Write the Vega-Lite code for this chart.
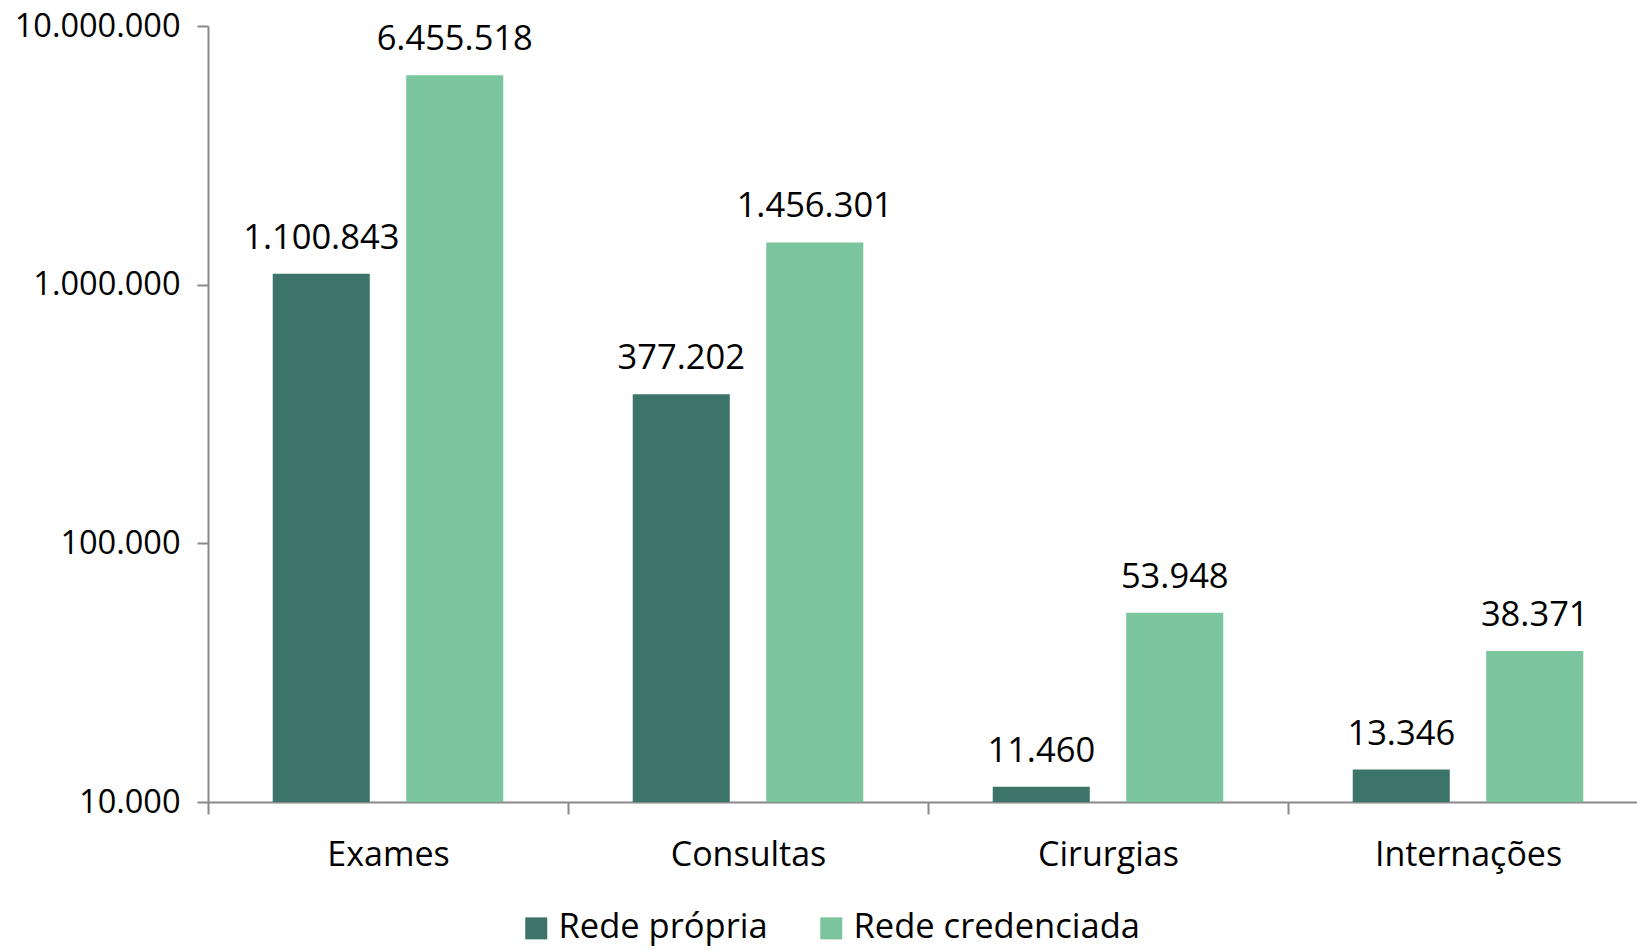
{
  "$schema": "https://vega.github.io/schema/vega-lite/v6.json",
  "width": 1440,
  "height": 776,
  "autosize": {"type": "none"},
  "padding": {"left": 208, "top": 26, "right": -11, "bottom": 148},
  "background": "white",
  "config": {
    "view": {"stroke": null},
    "font": "Open Sans",
    "locale": {"number": {"decimal": ",", "thousands": ".", "grouping": [3], "currency": ["R$", ""]}}
  },
  "data": {
    "values": [
      {"categoria": "Exames", "serie": "Rede própria", "valor": 1100843},
      {"categoria": "Exames", "serie": "Rede credenciada", "valor": 6455518},
      {"categoria": "Consultas", "serie": "Rede própria", "valor": 377202},
      {"categoria": "Consultas", "serie": "Rede credenciada", "valor": 1456301},
      {"categoria": "Cirurgias", "serie": "Rede própria", "valor": 11460},
      {"categoria": "Cirurgias", "serie": "Rede credenciada", "valor": 53948},
      {"categoria": "Internações", "serie": "Rede própria", "valor": 13346},
      {"categoria": "Internações", "serie": "Rede credenciada", "valor": 38371}
    ]
  },
  "encoding": {
    "x": {
      "field": "categoria",
      "type": "nominal",
      "sort": ["Exames", "Consultas", "Cirurgias", "Internações"],
      "scale": {"paddingInner": 0, "paddingOuter": 0},
      "axis": {
        "title": null,
        "labelAngle": 0,
        "tickBand": "extent",
        "domainColor": "#898989",
        "domainWidth": 2,
        "tickColor": "#898989",
        "tickWidth": 2,
        "tickSize": 12,
        "labelFontSize": 34,
        "labelLimit": 0,
        "labelColor": "#000000",
        "labelPadding": 24
      }
    },
    "xOffset": {
      "field": "serie",
      "type": "nominal",
      "sort": ["Rede própria", "Rede credenciada"],
      "scale": {"paddingInner": 0.273, "paddingOuter": 0.485}
    },
    "y": {
      "field": "valor",
      "type": "quantitative",
      "scale": {"type": "log", "domain": [10000, 10000000]},
      "axis": {
        "title": null,
        "grid": false,
        "values": [10000, 100000, 1000000, 10000000],
        "format": ",d",
        "domainColor": "#898989",
        "domainWidth": 2,
        "tickColor": "#898989",
        "tickWidth": 2,
        "tickSize": 11,
        "labelFontSize": 32.5,
        "labelColor": "#000000",
        "labelPadding": 17
      }
    }
  },
  "layer": [
    {
      "mark": {"type": "bar"},
      "encoding": {
        "y2": {"datum": 10000},
        "color": {
          "field": "serie",
          "type": "nominal",
          "sort": ["Rede própria", "Rede credenciada"],
          "scale": {"domain": ["Rede própria", "Rede credenciada"], "range": ["#3D746A", "#7BC59E"]},
          "legend": {
            "title": null,
            "orient": "none",
            "legendX": 311,
            "legendY": 885,
            "direction": "horizontal",
            "symbolType": "square",
            "symbolSize": 484,
            "symbolStrokeWidth": 0,
            "symbolOpacity": 1,
            "labelFontSize": 34.5,
            "labelLimit": 0,
            "labelColor": "#000000",
            "labelOffset": 5,
            "columnPadding": 46,
            "padding": 0
          }
        }
      }
    },
    {
      "mark": {"type": "text", "baseline": "alphabetic", "dy": -25, "fontSize": 34.5, "color": "#000000"},
      "encoding": {
        "text": {"field": "valor", "type": "quantitative", "format": ",d"}
      }
    }
  ]
}
